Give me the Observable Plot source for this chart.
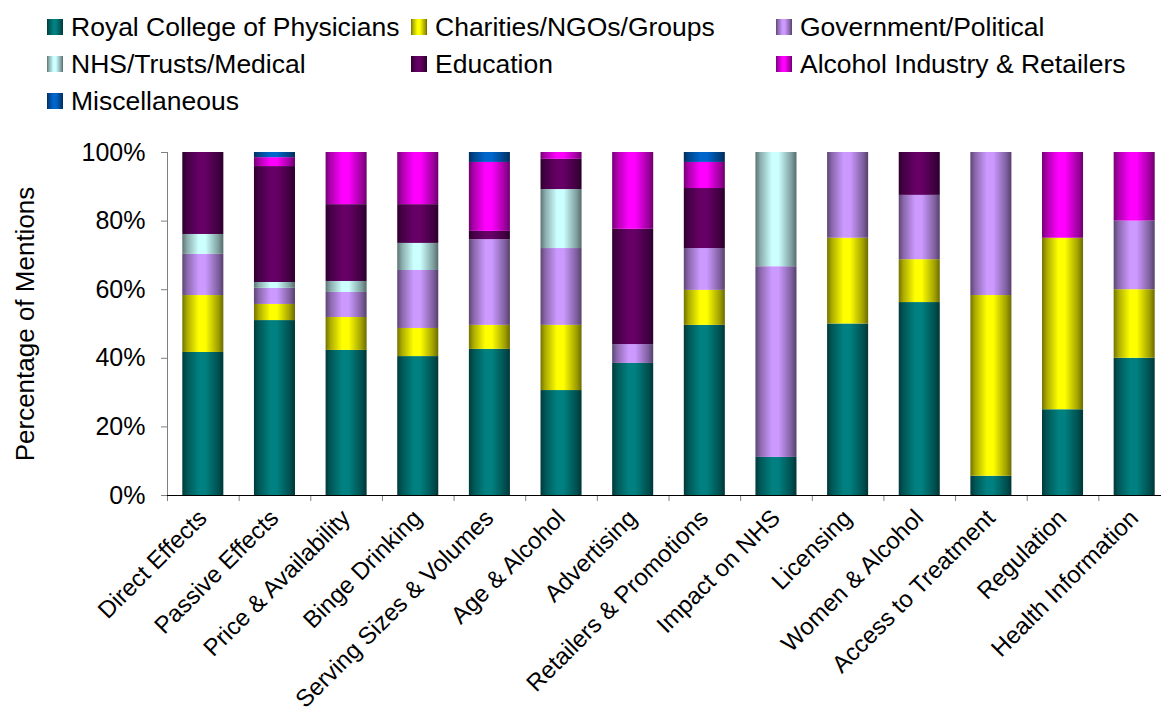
<!DOCTYPE html>
<html>
<head>
<meta charset="utf-8">
<script src="https://cdn.jsdelivr.net/npm/d3@7"></script>
<script src="https://cdn.jsdelivr.net/npm/@observablehq/plot@0.6"></script>
<style>
  html, body { margin: 0; padding: 0; background: #fff; overflow: hidden; }
  #wrap { position: relative; width: 1161px; height: 713px; font-family: "Liberation Sans", Arial, sans-serif; }
  #legend { position: relative; width: 1161px; height: 120px; }
  .item { position: absolute; display: flex; align-items: center; gap: 8px; font-size: 26.5px; line-height: 26px; color: #000; white-space: nowrap; }
  .sw { width: 16px; height: 16px; flex: none; }
  #chart svg { display: block; }
</style>
</head>
<body>
<div id="wrap">
  <div id="legend"></div>
  <div id="chart"></div>
</div>
<script>
const categories = ["Direct Effects", "Passive Effects", "Price & Availability", "Binge Drinking",
  "Serving Sizes & Volumes", "Age & Alcohol", "Advertising", "Retailers & Promotions",
  "Impact on NHS", "Licensing", "Women & Alcohol", "Access to Treatment", "Regulation", "Health Information"];

const seriesNames = ["Royal College of Physicians", "Charities/NGOs/Groups", "Government/Political",
  "NHS/Trusts/Medical", "Education", "Alcohol Industry & Retailers", "Miscellaneous"];

const seriesColors = ["#008080", "#FFFF00", "#CC99FF", "#CCFFFF", "#660066", "#FF00FF", "#0066CC"];

const royalCollege = [41.7, 51.0, 42.3, 40.5, 42.6, 30.6, 38.5, 49.6, 11.1, 50, 56.25, 5.6, 25, 40];
const charities    = [16.6, 4.7, 9.6, 8.2, 7.0, 19.0, 0, 10.2, 0, 25, 12.5, 52.7, 50, 20];
const government   = [12.0, 4.7, 7.3, 16.9, 25.0, 22.4, 5.5, 12.2, 55.6, 25, 18.75, 41.7, 0, 20];
const nhs          = [5.8, 1.7, 3.2, 7.9, 0, 17.2, 0, 0, 33.3, 0, 0, 0, 0, 0];
const education    = [23.9, 33.8, 22.4, 11.3, 2.4, 8.8, 33.6, 17.5, 0, 0, 12.5, 0, 0, 0];
const industry     = [0, 2.6, 15.2, 15.2, 20.1, 2.0, 22.4, 7.6, 0, 0, 0, 0, 25, 20];
const misc         = [0, 1.5, 0, 0, 2.9, 0, 0, 2.9, 0, 0, 0, 0, 0, 0];

const yTicks = [0, 20, 40, 60, 80, 100];

const seriesValues = [royalCollege, charities, government, nhs, education, industry, misc];

const data = seriesNames.flatMap((s, si) =>
  categories.map((c, i) => ({category: c, i, series: s, si, value: seriesValues[si][i]}))
).filter(d => d.value > 0);

// gradient stops (position, brightness factor)
const stops = [[0, 0.45], [0.12, 0.68], [0.4, 1], [0.56, 1], [0.88, 0.62], [1, 0.42]];
function shade(col, k) {
  const c = d3.rgb(col);
  return d3.rgb(c.r * k, c.g * k, c.b * k).formatHex();
}

// legend
const legendPos = [[47, 14], [411, 14], [776, 14], [47, 51], [411, 51], [776, 51], [47, 88]];
const legend = document.getElementById("legend");
seriesNames.forEach((s, si) => {
  const it = document.createElement("div");
  it.className = "item";
  it.style.left = legendPos[si][0] + "px";
  it.style.top = legendPos[si][1] + "px";
  const sw = document.createElement("span");
  sw.className = "sw";
  sw.style.background = "linear-gradient(to right, " +
    stops.map(([p, k]) => `${shade(seriesColors[si], k)} ${p * 100}%`).join(", ") + ")";
  const tx = document.createElement("span");
  tx.textContent = s;
  it.appendChild(sw);
  it.appendChild(tx);
  legend.appendChild(it);
});

const chart = Plot.plot({
  width: 1161,
  height: 593,
  marginTop: 32,
  marginBottom: 218,
  marginLeft: 167,
  marginRight: 0,
  style: {fontFamily: "Liberation Sans, Arial, sans-serif", fontSize: "25px", background: "#fff", overflow: "hidden"},
  x: {domain: [0, 14], range: [167, 1170], axis: null},
  y: {domain: [0, 100], axis: null},
  color: {type: "identity"},
  marks: [
    Plot.rectY(data, {x: "i", interval: 1, y: "value", fill: d => `url(#grad${d.si})`, insetLeft: 15.3, insetRight: 15.3}),
    Plot.axisY({ticks: yTicks, tickFormat: d => `${d}%`, tickSize: 6, tickPadding: 16, stroke: "#808080", fill: "#000", fontSize: 25, label: null}),
    Plot.axisX({ticks: d3.range(0, 15), tickSize: 6, tickFormat: () => "", stroke: "#808080", label: null}),
    Plot.ruleX([0], {stroke: "#808080"}),
    Plot.ruleY([0], {stroke: "#000"}),
    Plot.text(categories, {x: (d, i) => i + 0.5, text: d => d, frameAnchor: "bottom", rotate: -45,
      textAnchor: "end", lineAnchor: "bottom", dx: 5, dy: 24, fontSize: 24, fill: "#000"}),
    Plot.text(["Percentage of Mentions"], {text: d => d, frameAnchor: "left", rotate: -90, dx: -142,
      textAnchor: "middle", lineAnchor: "middle", fontSize: 26, fill: "#000"})
  ]
});

// gradient definitions for cylinder-like bars
const defs = d3.select(chart).insert("defs", ":first-child");
seriesColors.forEach((col, si) => {
  const g = defs.append("linearGradient").attr("id", `grad${si}`).attr("x1", 0).attr("x2", 1).attr("y1", 0).attr("y2", 0);
  stops.forEach(([p, k]) => g.append("stop").attr("offset", p).attr("stop-color", shade(col, k)));
});

document.getElementById("chart").appendChild(chart);
</script>
</body>
</html>
